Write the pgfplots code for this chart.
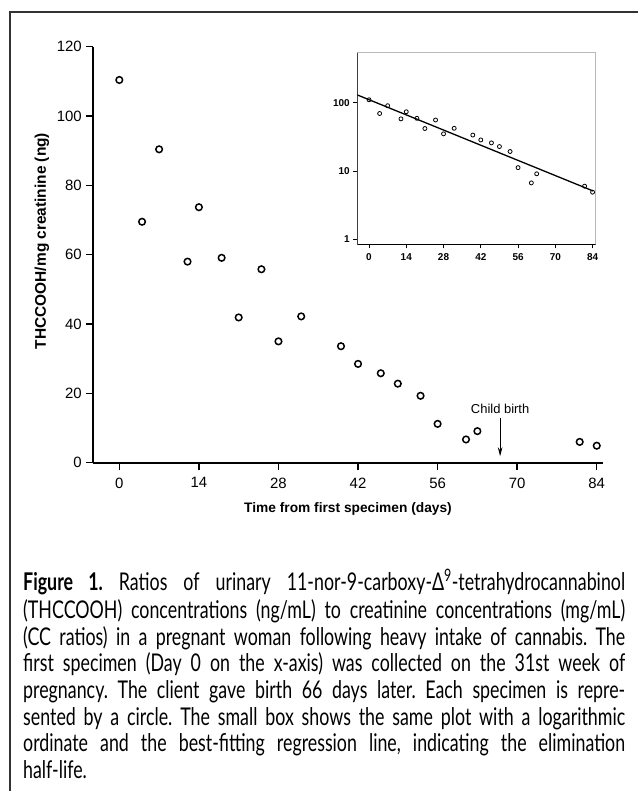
\documentclass[border=0pt]{standalone}
\usepackage{fontspec}
\setmainfont{Liberation Sans}
\newfontfamily\capfont[FakeStretch=0.73]{Lato}
\usepackage{pgfplots}
\usepackage{pgfplotstable}
\pgfplotsset{compat=1.18}
\usetikzlibrary{arrows.meta}

% day, THCCOOH/creatinine ratio
\pgfplotstableread{
day ratio
0  110.4
4  69.5
7  90.4
12 58.0
14 73.7
18 59.1
21 41.9
25 55.8
28 35.0
32 42.2
39 33.6
42 28.5
46 25.8
49 22.8
53 19.3
56 11.2
61 6.7
63 9.1
81 6.0
84 4.9
}\ccdata

\begin{document}
\begin{tikzpicture}
\useasboundingbox (0bp,0bp) rectangle (638bp,791bp);
\draw[line width=1.5bp, black!80] (10bp,0bp) -- (10bp,779bp) -- (638bp,779bp);

% main plot
\begin{axis}[
  at={(93.3bp,328.3bp)}, anchor=south west,
  scale only axis, width=509.4bp, height=416bp,
  xmin=-4.58, xmax=85.05, ymin=0, ymax=120,
  axis lines=left, axis line style={-, line width=2bp},
  xtick={0,14,...,84}, ytick={0,20,...,120},
  tick align=outside, major tick length=7bp,
  tick style={black, line width=1.5bp},
  /pgf/number format/assume math mode=true,
  ticklabel style={font=\fontsize{15}{17}\selectfont},
  xticklabel style={yshift=-4.5bp},
  yticklabel style={xshift=-1bp},
  xlabel={Time from first specimen (days)},
  ylabel={THCCOOH/mg creatinine (ng)},
  xlabel style={at={(axis description cs:0.5,-0.110)}, anchor=center,
    font=\bfseries\fontsize{13.8}{16}\selectfont},
  ylabel style={at={(axis description cs:-0.101,0.533)}, anchor=center,
    font=\bfseries\fontsize{15.5}{18}\selectfont},
  clip=false,
]
\addplot[only marks, mark=o, mark size=3.3bp, mark options={line width=1.5bp}] table[x=day, y=ratio] {\ccdata};
\node[font=\fontsize{13}{15}\selectfont] at (axis cs:67,15.5) {Child birth};
\draw[-{Stealth[length=9bp,width=4.5bp]}, line width=1.2bp] (axis cs:67,12.9) -- (axis cs:67,1.85);
\end{axis}

% inset with log ordinate
\begin{axis}[
  at={(357.3bp,546.7bp)}, anchor=south west,
  scale only axis, width=238.2bp, height=191.6bp,
  ymode=log, xmin=-4.4, xmax=85.1, ymin=0.845, ymax=540,
  axis background/.style={fill=white},
  axis line style={gray!55, line width=1.3bp},
  xtick={0,14,...,84}, ytick={1,10,100}, yticklabels={1,10,100},
  yminorticks=false,
  tick pos=left, tick align=outside, major tick length=4bp,
  tick style={black, line width=1bp},
  /pgf/number format/assume math mode=true,
  ticklabel style={font=\bfseries\fontsize{10}{11}\selectfont},
  xticklabel style={yshift=-2bp},
]
\addplot[only marks, mark=o, mark size=2bp, mark options={line width=0.8bp}] table[x=day, y=ratio] {\ccdata};
\addplot[black, line width=1.3bp, no marks] coordinates {(-4.4,130) (84.2,5.1)};
\draw[line width=1.5bp] (rel axis cs:0,1) -- (rel axis cs:0,0) -- (rel axis cs:1,0);
\end{axis}

\node[anchor=north west, inner sep=0pt, text width=602bp, align=justify,
  font=\capfont\fontsize{24.5}{26.8}\selectfont] at (23bp,222.1bp) {%
\frenchspacing\tolerance=10000\hbadness=10000\strut\textbf{Figure 1.} Ratios of urinary 11-nor-9-carboxy-Δ\textsuperscript{9}-tetrahydrocannabinol\linebreak
(THCCOOH) concentrations (ng/mL) to creatinine concentrations (mg/mL)\linebreak
(CC ratios) in a pregnant woman following heavy intake of cannabis. The\linebreak
first specimen (Day 0 on the x-axis) was collected on the 31st week of\linebreak
pregnancy. The client gave birth 66 days later. Each specimen is repre-\linebreak
sented by a circle. The small box shows the same plot with a logarithmic\linebreak
ordinate and the best-fitting regression line, indicating the elimination\linebreak
half-life.};
\end{tikzpicture}
\end{document}
